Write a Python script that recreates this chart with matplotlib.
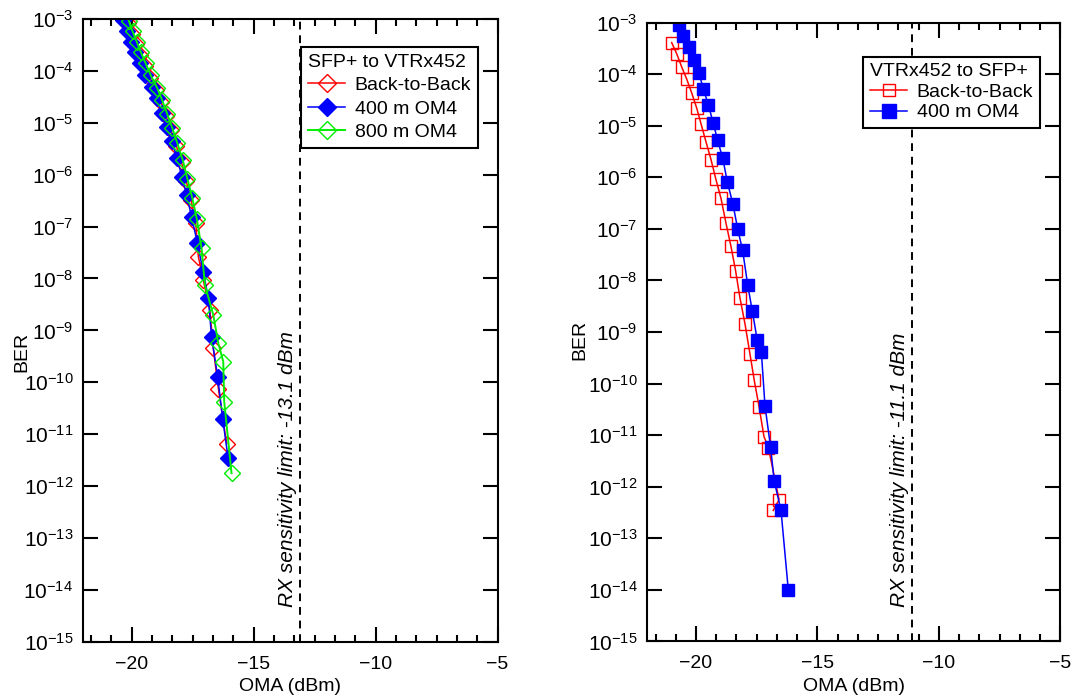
import numpy as np
import matplotlib
matplotlib.use('Agg')
import matplotlib.pyplot as plt
from matplotlib.ticker import AutoMinorLocator, NullLocator

plt.rcParams['font.family'] = ['Liberation Sans', 'DejaVu Sans']
plt.rcParams['mathtext.fontset'] = 'custom'
plt.rcParams['mathtext.rm'] = 'Liberation Sans'
plt.rcParams['mathtext.it'] = 'Liberation Sans:italic'

# ── Data: SFP+ to VTRx452 (left) ───────────────────────────────────────────
b2b_l_oma = [-20.15, -20.00, -19.83, -19.67, -19.46, -19.26, -19.00, -18.80, -18.59,
             -18.39, -18.18, -17.96, -17.77, -17.57, -17.38, -17.27, -17.07, -16.80,
             -16.66, -16.45, -16.11]
b2b_l_logber = [-3.08, -3.29, -3.49, -3.69, -3.91, -4.14, -4.38, -4.60, -4.88,
                -5.15, -5.44, -5.76, -6.12, -6.49, -6.93, -7.58, -8.03, -8.61,
                -9.34, -10.12, -11.18]

om4_400_l_oma = [-20.35, -20.21, -20.03, -19.87, -19.66, -19.46, -19.18, -18.98, -18.77,
                 -18.57, -18.36, -18.14, -17.95, -17.75, -17.55, -17.31, -17.07, -16.86,
                 -16.73, -16.48, -16.27, -16.05]
om4_400_l_logber = [-3.03, -3.24, -3.44, -3.63, -3.85, -4.08, -4.32, -4.53, -4.81,
                    -5.08, -5.36, -5.68, -6.04, -6.39, -6.81, -7.32, -7.87, -8.38,
                    -9.12, -9.89, -10.71, -11.46]

om4_800_l_oma = [-20.12, -19.97, -19.80, -19.63, -19.43, -19.22, -18.96, -18.76, -18.55,
                 -18.34, -18.13, -17.91, -17.72, -17.52, -17.33, -17.14, -17.00, -16.66,
                 -16.45, -16.25, -16.21, -15.91]
om4_800_l_logber = [-3.04, -3.24, -3.44, -3.64, -3.86, -4.09, -4.33, -4.56, -4.83,
                    -5.10, -5.40, -5.72, -6.08, -6.45, -6.86, -7.42, -8.13, -8.70,
                    -9.25, -9.60, -10.37, -11.75]

# ── Data: VTRx452 to SFP+ (right) ──────────────────────────────────────────
b2b_r_oma = [-21.00, -20.79, -20.59, -20.38, -20.18, -19.97, -19.79, -19.59, -19.38,
             -19.18, -18.97, -18.77, -18.56, -18.37, -18.19, -17.98, -17.78, -17.60,
             -17.40, -17.20, -17.02, -16.58, -16.82]
b2b_r_logber = [-3.39, -3.61, -3.86, -4.10, -4.36, -4.66, -4.97, -5.31, -5.66,
                -6.04, -6.41, -6.88, -7.34, -7.81, -8.34, -8.85, -9.42, -9.94,
                -10.46, -11.03, -11.24, -12.25, -12.46]

om4_400_r_oma = [-20.70, -20.52, -20.30, -20.08, -19.88, -19.70, -19.49, -19.29, -19.11,
                 -18.90, -18.71, -18.48, -18.28, -18.08, -17.87, -17.68, -17.48, -17.31,
                 -17.16, -16.93, -16.78, -16.50, -16.20]
om4_400_r_logber = [-3.05, -3.26, -3.47, -3.73, -3.98, -4.28, -4.60, -4.95, -5.28,
                    -5.63, -6.09, -6.52, -7.01, -7.42, -8.09, -8.60, -9.15, -9.38,
                    -10.43, -11.23, -11.89, -12.46, -14.00]

rx_limit_left = -13.1
rx_limit_right = -11.1
ber_decades = list(range(-15, -2))

# ── Figure ─────────────────────────────────────────────────────────────────
fig = plt.figure(figsize=(10.74, 6.97), dpi=100)
ax1 = fig.add_axes([0.0773, 0.079, 0.386, 0.894])
ax2 = fig.add_axes([0.6028, 0.0797, 0.3845, 0.888])

FS = 14


def style_axis(ax, label_x, label_y):
    ax.set_yscale('log')
    ax.set_xlim(-22, -5)
    ax.set_ylim(1e-15, 1e-3)
    ax.set_xticks([-20, -15, -10, -5])
    ax.xaxis.set_minor_locator(AutoMinorLocator(6))
    ax.set_yticks([10.0**d for d in ber_decades])
    ax.yaxis.set_minor_locator(NullLocator())
    ax.tick_params(which='both', direction='in', top=True, right=True, width=1.5)
    ax.tick_params(axis='x', labelsize=FS, pad=10)
    ax.tick_params(axis='y', labelsize=15, pad=7)
    ax.tick_params(which='major', length=11)
    ax.tick_params(which='minor', length=5)
    for sp in ax.spines.values():
        sp.set_linewidth(1.5)
    ax.set_xlabel('OMA (dBm)', fontsize=FS, labelpad=4)
    ax.set_ylabel('BER', fontsize=FS)
    ax.yaxis.set_label_coords(label_x, label_y)


def rx_line(ax, limit):
    ax.axvline(limit, color='black', linestyle='--', linewidth=1.4, dashes=(4, 3))
    ax.text(limit - 0.12, 10**-14.33, f'RX sensitivity limit: {limit} dBm',
            rotation=90, ha='right', va='bottom', fontsize=15, style='italic')


def add_legend(ax, title, anchor, spacing):
    leg = ax.legend(title=title, loc='upper right', bbox_to_anchor=anchor,
                    fontsize=FS, title_fontsize=FS, frameon=True, fancybox=False,
                    edgecolor='black', framealpha=1, handlelength=1.9, handletextpad=0.5,
                    borderpad=0.35, labelspacing=spacing, alignment='left', borderaxespad=0,
                    markerscale=1.15)
    leg.get_frame().set_linewidth(1.5)
    return leg


# Left panel
ax1.plot(b2b_l_oma, 10**np.array(b2b_l_logber), color='red', marker='D', ms=8,
         mfc='none', mec='red', mew=1, lw=1.1, label='Back-to-Back')
ax1.plot(om4_400_l_oma, 10**np.array(om4_400_l_logber), color='blue', marker='D', ms=8,
         mfc='blue', mec='blue', lw=1.1, label='400 m OM4')
ax1.plot(om4_800_l_oma, 10**np.array(om4_800_l_logber), color='#00ee00', marker='D', ms=8,
         mfc='none', mec='#00ee00', mew=1, lw=1.4, label='800 m OM4')
style_axis(ax1, -0.128, 0.465)
rx_line(ax1, rx_limit_left)
add_legend(ax1, 'SFP+ to VTRx452', (0.953, 0.955), 0.3)

# Right panel
ax2.plot(b2b_r_oma, 10**np.array(b2b_r_logber), color='red', marker='s', ms=8,
         mfc='none', mec='red', mew=1, lw=1.1, label='Back-to-Back')
ax2.plot(om4_400_r_oma, 10**np.array(om4_400_r_logber), color='blue', marker='s', ms=9,
         mfc='blue', mec='blue', lw=1.1, label='400 m OM4')
style_axis(ax2, -0.143, 0.487)
rx_line(ax2, rx_limit_right)
add_legend(ax2, 'VTRx452 to SFP+', (0.951, 0.945), 0.15)

plt.savefig('out.png', dpi=100)
plt.close()
